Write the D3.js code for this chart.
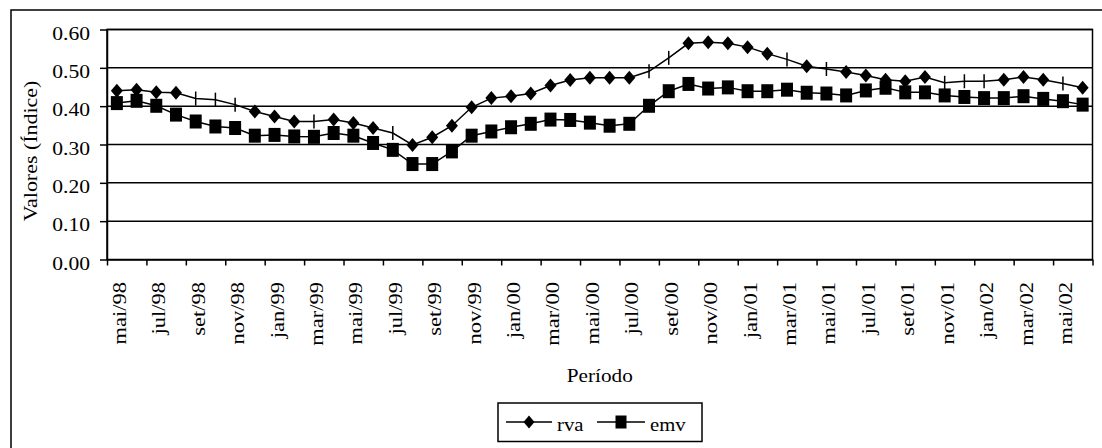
<!DOCTYPE html>
<html>
<head>
<meta charset="utf-8">
<script src="https://cdn.jsdelivr.net/npm/d3@7"></script>
<style>
  html, body { margin: 0; padding: 0; background: #fff; }
  svg { display: block; }
</style>
</head>
<body>
<svg id="chart" width="1102" height="448"></svg>
<script>
// Monthly periods, mai/98 .. jun/02
const categories = [
  "mai/98","jun/98","jul/98","ago/98","set/98","out/98","nov/98","dez/98",
  "jan/99","fev/99","mar/99","abr/99","mai/99","jun/99","jul/99","ago/99",
  "set/99","out/99","nov/99","dez/99","jan/00","fev/00","mar/00","abr/00",
  "mai/00","jun/00","jul/00","ago/00","set/00","out/00","nov/00","dez/00",
  "jan/01","fev/01","mar/01","abr/01","mai/01","jun/01","jul/01","ago/01",
  "set/01","out/01","nov/01","dez/01","jan/02","fev/02","mar/02","abr/02",
  "mai/02","jun/02"
];

const rva = [
  0.440,0.443,0.436,0.435,0.420,0.417,0.404,0.386,0.373,0.360,
  0.360,0.365,0.356,0.343,0.330,0.299,0.319,0.349,0.397,0.421,
  0.426,0.433,0.454,0.468,0.474,0.474,0.474,0.491,0.526,0.564,
  0.567,0.564,0.554,0.537,0.522,0.504,0.497,0.489,0.480,0.469,
  0.465,0.476,0.461,0.465,0.465,0.469,0.476,0.469,0.459,0.448
];

const emv = [
  0.408,0.414,0.401,0.378,0.360,0.347,0.343,0.323,0.325,0.321,
  0.320,0.330,0.323,0.304,0.286,0.249,0.249,0.282,0.323,0.334,
  0.345,0.354,0.365,0.364,0.357,0.349,0.354,0.401,0.439,0.458,
  0.446,0.449,0.439,0.439,0.443,0.435,0.433,0.428,0.441,0.448,
  0.436,0.436,0.428,0.424,0.421,0.421,0.426,0.419,0.413,0.404
];

const yTicks = [0, 0.1, 0.2, 0.3, 0.4, 0.5, 0.6];
const seriesNames = ["rva", "emv"];
const yTitle = "Valores (Índice)";
const xTitle = "Período";

// ---- layout ----
const svg = d3.select("#chart");
const plot = { left: 107, top: 29.5, right: 1092.5, bottom: 259.5 };
const FS = 18;
const FONT = "'Liberation Serif', 'Times New Roman', Times, serif";

// outer frame (runs off the right/bottom edges)
svg.append("rect")
  .attr("x", 11).attr("y", 10).attr("width", 1120).attr("height", 460)
  .attr("fill", "#fff").attr("stroke", "#000").attr("stroke-width", 1.5);

const x = d3.scaleBand().domain(categories).range([plot.left, plot.right]).padding(0);
const y = d3.scaleLinear().domain([0, 0.6]).range([plot.bottom, plot.top]);
const cx = d => x(d) + x.bandwidth() / 2;

// horizontal grid lines
svg.append("g").selectAll("line").data(yTicks.slice(1)).join("line")
  .attr("x1", plot.left).attr("x2", plot.right)
  .attr("y1", d => y(d)).attr("y2", d => y(d))
  .attr("stroke", "#000").attr("stroke-width", 1.5);

// plot area border
svg.append("rect")
  .attr("x", plot.left).attr("y", plot.top)
  .attr("width", plot.right - plot.left).attr("height", plot.bottom - plot.top)
  .attr("fill", "none").attr("stroke", "#000").attr("stroke-width", 1.5);

// helper: text placed inside a transformed group, in the chart's serif face
function label(sel, transform, str, anchor) {
  sel.append("g").attr("transform", transform)
    .append("text")
    .attr("font-family", FONT).attr("font-size", FS).attr("fill", "#000")
    .attr("text-anchor", anchor)
    .text(str);
}

// y axis
const yAxis = svg.append("g")
  .attr("transform", `translate(${plot.left},0)`)
  .call(d3.axisLeft(y).tickValues(yTicks).tickSize(7).tickSizeOuter(0).tickFormat(d3.format(".2f")));
yAxis.select(".domain").attr("stroke", "#000").attr("stroke-width", 1.5);
yAxis.selectAll(".tick line").attr("stroke", "#000").attr("stroke-width", 1.5);
yAxis.selectAll(".tick text").remove();
yAxis.selectAll(".tick").each(function (d) {
  label(d3.select(this), "translate(-17,9.5) scale(1.2,1)", d3.format(".2f")(d), "end");
});

// x axis: ticks at every second category boundary
const boundary = d3.scaleLinear().domain([0, categories.length]).range([plot.left, plot.right]);
const xAxis = svg.append("g")
  .attr("transform", `translate(0,${plot.bottom})`)
  .call(d3.axisBottom(boundary)
    .tickValues(d3.range(0, categories.length + 1, 2))
    .tickSize(6).tickSizeOuter(0).tickFormat(""));
xAxis.select(".domain").attr("stroke", "#000").attr("stroke-width", 1.5);
xAxis.selectAll(".tick line").attr("stroke", "#000").attr("stroke-width", 1.5);

// rotated category labels on every second month
const xl = svg.append("g");
categories.filter((d, i) => i % 2 === 0).forEach(d => {
  label(xl, `translate(${cx(d) + 9},282) rotate(-90) scale(1.25,1)`, d, "end");
});

// axis titles
label(svg, "translate(37,151) rotate(-90) scale(1.22,1)", yTitle, "middle");
label(svg, `translate(${(plot.left + plot.right) / 2},381.5) scale(1.18,1)`, xTitle, "middle");

// series lines
const line = d3.line().x((d, i) => cx(categories[i])).y(d => y(d));
[rva, emv].forEach(s => {
  svg.append("path").datum(s)
    .attr("d", line).attr("fill", "none")
    .attr("stroke", "#000").attr("stroke-width", 1.5);
});

// markers: diamonds for rva (some points carry only a short vertical tick), squares for emv
const rvaTickOnly = new Set([4, 5, 6, 10, 14, 27, 28, 34, 36, 42, 43, 44, 48]);
const diamond = (w, h) => `M0,${-h / 2}L${w / 2},0L0,${h / 2}L${-w / 2},0Z`;

svg.append("g").selectAll("path")
  .data(rva.map((v, i) => ({ v, i })).filter(d => !rvaTickOnly.has(d.i)))
  .join("path")
  .attr("transform", d => `translate(${cx(categories[d.i])},${y(d.v)})`)
  .attr("d", diamond(12, 14)).attr("fill", "#000");

svg.append("g").selectAll("line")
  .data(rva.map((v, i) => ({ v, i })).filter(d => rvaTickOnly.has(d.i)))
  .join("line")
  .attr("x1", d => cx(categories[d.i])).attr("x2", d => cx(categories[d.i]))
  .attr("y1", d => y(d.v) - 7).attr("y2", d => y(d.v) + 7)
  .attr("stroke", "#000").attr("stroke-width", 1.5);

svg.append("g").selectAll("rect")
  .data(emv.map((v, i) => ({ v, i })))
  .join("rect")
  .attr("x", d => cx(categories[d.i]) - 6).attr("y", d => y(d.v) - 7)
  .attr("width", 12).attr("height", 14).attr("fill", "#000");

// legend
const lg = svg.append("g");
lg.append("rect")
  .attr("x", 498).attr("y", 403).attr("width", 204).attr("height", 38.5)
  .attr("fill", "#fff").attr("stroke", "#000").attr("stroke-width", 1.5);

const legendItems = [
  { name: seriesNames[0], x0: 506, x1: 552, mark: "diamond" },
  { name: seriesNames[1], x0: 597, x1: 645, mark: "square" }
];
const ly = 422;
legendItems.forEach(it => {
  lg.append("line").attr("x1", it.x0).attr("x2", it.x1).attr("y1", ly).attr("y2", ly)
    .attr("stroke", "#000").attr("stroke-width", 1.5);
  const mx = (it.x0 + it.x1) / 2;
  if (it.mark === "diamond") {
    lg.append("path").attr("transform", `translate(${mx},${ly})`)
      .attr("d", diamond(11, 13)).attr("fill", "#000");
  } else {
    lg.append("rect").attr("x", mx - 5.5).attr("y", ly - 6.5)
      .attr("width", 11).attr("height", 13).attr("fill", "#000");
  }
  label(lg, `translate(${it.x1 + 5},431) scale(1.15,1)`, it.name, "start");
});
</script>
</body>
</html>
